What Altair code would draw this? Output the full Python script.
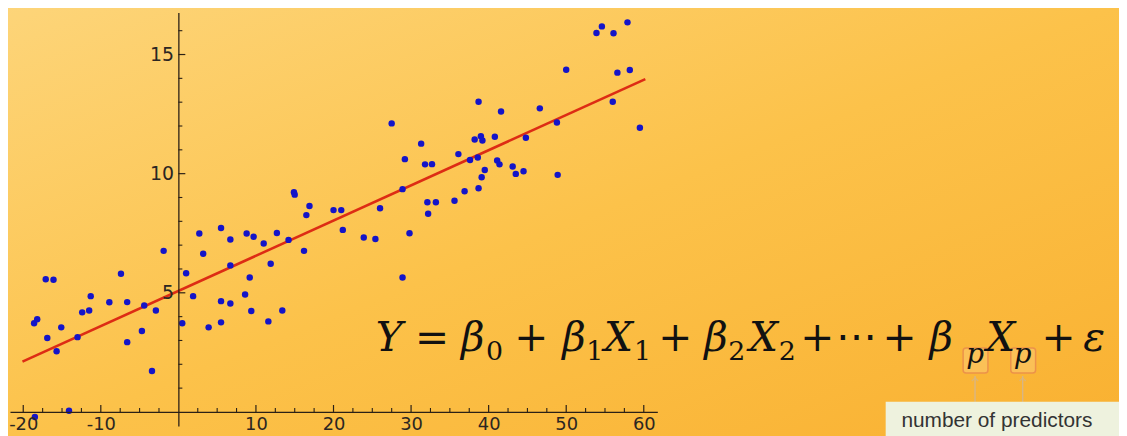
import altair as alt
import pandas as pd
import numpy as np

# ---------------- data ----------------
x_vals = [16.9, 16.5, 20.0, 2.7, 5.5, 6.7, 8.8, 9.7, 11.0, 12.7, 14.2, 16.2, -1.9, 3.2, 1.0,
          6.7, 11.9, 9.2, -17.1, -16.1, -7.4, -11.3, 1.9, 8.6, 5.5, 6.7, -8.9, -6.6, -4.4,
          -12.4, -11.5, -2.9, 9.4, 13.4, -18.6, -18.2, -15.1, 0.5, 3.9, 5.5, 11.6, -16.9,
          -13.0, -4.7, -6.6, -15.7, -3.4, -14.1, -18.5, 14.9, 15.0, 57.9, 54.6, 53.9, 56.1,
          50.0, 56.6, 58.2, 56.0, 38.7, 41.6, 46.6, 27.5, 48.8, 59.5, 31.3, 38.2, 39.0, 39.2,
          40.8, 44.8, 29.2, 31.8, 32.7, 36.1, 37.6, 38.6, 41.1, 41.4, 39.5, 43.1, 43.5, 44.5,
          39.1, 48.9, 36.9, 38.7, 28.9, 32.1, 33.2, 35.6, 26.0, 32.2, 21.0, 21.2, 23.9, 25.4,
          29.8, 28.9]
y_vals = [8.64, 8.26, 8.47, 7.49, 7.72, 7.24, 7.49, 7.35, 7.07, 7.51, 7.22, 6.76, 6.76, 6.64, 5.82,
          6.15, 6.22, 5.64, 5.57, 5.55, 5.80, 4.86, 4.86, 4.93, 4.65, 4.55, 4.60, 4.61, 4.47,
          4.18, 4.26, 4.26, 4.24, 4.26, 3.72, 3.89, 3.55, 3.72, 3.55, 3.76, 3.80, 3.10,
          3.14, 3.40, 2.93, 2.55, 1.72, 0.05, -0.21, 9.22, 9.12, 16.35, 16.18, 15.90, 15.89,
          14.36, 14.24, 14.35, 13.02, 13.02, 12.61, 12.74, 12.11, 12.15, 11.93, 11.26, 11.43, 11.57, 11.39,
          11.55, 11.51, 10.61, 10.39, 10.40, 10.82, 10.57, 10.68, 10.55, 10.39, 10.15, 10.30, 9.99, 10.10,
          9.85, 9.95, 9.26, 9.39, 9.35, 8.80, 8.80, 8.86, 8.55, 8.32, 8.47, 7.64, 7.32, 7.26,
          7.50, 5.64]
line_x = [-20.1, 60.2]
line_y = [2.11, 13.97]

x_tick_labels = [-20, -10, 10, 20, 30, 40, 50, 60]
y_tick_labels = [5, 10, 15]
x_minor_ticks = [v for v in np.arange(-20, 60.1, 2.5) if v % 10 != 0]
y_minor_ticks = [v for v in range(1, 17) if v % 5 != 0]

eq_main_italic = ["Y", "β", "β", "X", "β", "X", "β", "X", "ε"]
eq_main_upright = ["=", "+", "+", "+", "⋯", "+", "+"]
eq_sub_upright = ["0", "1", "1", "2", "2"]
eq_sub_italic = ["p", "p"]
note_text = "number of predictors"

# ---------------- layout (page pixels) ----------------
PX_PER_X, X0_PAGE = 7.8125, 179.6
PX_PER_Y, Y0_PAGE = 24.0, 413.3
LEFT, RIGHT = 10.0, 662.0
TOP, BOTTOM = 11.0, 427.5
W, H = RIGHT - LEFT, BOTTOM - TOP
x_dom = [(LEFT - X0_PAGE) / PX_PER_X, (RIGHT - X0_PAGE) / PX_PER_X]
y_dom = [(Y0_PAGE - BOTTOM) / PX_PER_Y, (Y0_PAGE - TOP) / PX_PER_Y]
x0_plot = X0_PAGE - LEFT
y0_plot = Y0_PAGE - TOP

def px(v):
    return v - LEFT

def py(v):
    return v - TOP

xscale = alt.Scale(domain=x_dom, nice=False, zero=False)
yscale = alt.Scale(domain=y_dom, nice=False, zero=False)
axis_style = dict(title=None, ticks=False, tickSize=0, grid=False, zindex=1,
                  domainColor="#2a2016", domainWidth=1.3, labelFont="DejaVu Sans",
                  labelColor="#2b2622", labelOverlap=False,
                  labelFlush=False, labelBound=False,
                  labelExpr="datum.value < 0 ? '-' + abs(datum.value) : datum.label")
xaxis = alt.Axis(values=x_tick_labels, orient="bottom", offset=y0_plot - H,
                 labelPadding=4, labelFontSize=18, **axis_style)
yaxis = alt.Axis(values=y_tick_labels, orient="left", offset=-x0_plot,
                 labelPadding=5, labelFontSize=19, **axis_style)

def X(field):
    return alt.X(field, type="quantitative", scale=xscale, axis=xaxis)

def Y(field):
    return alt.Y(field, type="quantitative", scale=yscale, axis=yaxis)

dummy = pd.DataFrame({"a": [0]})

# background gradient
bg = alt.Chart(dummy).mark_rect(
    color={"gradient": "linear", "x1": 0, "y1": 0, "x2": 1, "y2": 1,
           "stops": [{"offset": 0, "color": "#FDD57A"},
                     {"offset": 0.5, "color": "#FCC24A"},
                     {"offset": 1, "color": "#F9B030"}]}
).encode(x=alt.value(-LEFT), x2=alt.value(1127), y=alt.value(-TOP), y2=alt.value(440))

# ticks
xt_major = pd.DataFrame({"t": x_tick_labels, "z": 0})
xt_minor = pd.DataFrame({"t": x_minor_ticks, "z": 0})
yt_major = pd.DataFrame({"t": y_tick_labels, "z": 0})
yt_minor = pd.DataFrame({"t": y_minor_ticks, "z": 0})
tick_color = "#2a2016"
xmaj = alt.Chart(xt_major).mark_rule(color=tick_color, strokeWidth=1.2, y2Offset=-7).encode(
    x=X("t"), y=Y("z"), y2="z")
xmin = alt.Chart(xt_minor).mark_rule(color=tick_color, strokeWidth=1.1, y2Offset=-4).encode(
    x=X("t"), y=Y("z"), y2="z")
ymaj = alt.Chart(yt_major).mark_rule(color=tick_color, strokeWidth=1.2, x2Offset=7).encode(
    y=Y("t"), x=X("z"), x2="z")
ymin = alt.Chart(yt_minor).mark_rule(color=tick_color, strokeWidth=1.1, x2Offset=4).encode(
    y=Y("t"), x=X("z"), x2="z")

# data points and fitted line
pts = alt.Chart(pd.DataFrame({"x": x_vals, "y": y_vals})).mark_circle(
    size=42, color="#1414C8", opacity=1).encode(x=X("x"), y=Y("y"))
fit = alt.Chart(pd.DataFrame({"x": line_x, "y": line_y})).mark_line(
    color="#DD2C14", strokeWidth=2.6).encode(x=X("x"), y=Y("y"))

# equation
def eq_layer(texts, centers, base, size, italic, weight="normal"):
    df = pd.DataFrame({"t": texts, "cx": [px(c) for c in centers]})
    return alt.Chart(df).mark_text(
        font="DejaVu Serif", fontSize=size, fontStyle="italic" if italic else "normal",
        fontWeight=weight, align="center", baseline="alphabetic", color="#111111"
    ).encode(x=alt.X("cx:Q", scale=None), y=alt.value(py(base)), text="t:N")

eq1 = eq_layer(eq_main_italic, [392, 476, 578, 623, 721, 769, 948, 1008, 1102], 352, 41, True)
eq2 = eq_layer(eq_main_upright, [435, 535, 680, 823, 863, 906, 1066], 352, 41, False)
eq3 = eq_layer(eq_sub_upright, [498, 599, 647, 742, 793], 361, 27, False)
eq4 = eq_layer(eq_sub_italic, [982, 1030], 364, 28, True)

# small boxes around subscript p (drawn beneath the equation text)
pbox = pd.DataFrame({"x1": [px(970), px(1018)], "x2": [px(995), px(1043)]})
boxes = alt.Chart(pbox).mark_rect(
    fill="#FFD9A0", fillOpacity=0.3, stroke="#EC924A", strokeWidth=1.5, cornerRadius=3
).encode(x=alt.X("x1:Q", scale=None), x2="x2:Q", y=alt.value(py(349)), y2=alt.value(py(374)))

arrows_df = pd.DataFrame({"ax": [px(982), px(1030)]})
arrow_lines = alt.Chart(arrows_df).mark_rule(color="#D6B58A", strokeWidth=1.3).encode(
    x=alt.X("ax:Q", scale=None), y=alt.value(py(377)), y2=alt.value(py(403)))
arrow_heads = alt.Chart(arrows_df).mark_point(
    shape="M-1,1L0,0L1,1", size=40, stroke="#D6B58A", strokeWidth=1.3, filled=False
).encode(x=alt.X("ax:Q", scale=None), y=alt.value(py(379)))

# note box
note_box = alt.Chart(dummy).mark_rect(color="#EEF2DE").encode(
    x=alt.value(px(892)), x2=alt.value(px(1130)), y=alt.value(py(403)), y2=alt.value(py(440)))
note = alt.Chart(pd.DataFrame({"t": [note_text]})).mark_text(
    font="Liberation Sans", fontSize=21, color="#333333", align="center", baseline="middle"
).encode(x=alt.value(px(1004)), y=alt.value(py(422)), text="t:N")

chart = alt.layer(
    bg, xmaj, xmin, ymaj, ymin, fit, pts, boxes, arrow_lines, arrow_heads,
    eq1, eq2, eq3, eq4, note_box, note
).properties(
    width=W, height=H,
    autosize=alt.AutoSizeParams(type="none"),
    padding={"left": LEFT - 8, "top": TOP - 8,
             "right": 1127 - 8 - (LEFT - 8) - W, "bottom": 436 - 8 - (TOP - 8) - H + 4},
).configure_view(stroke=None).configure(background="#FCC656")

chart.save("out.html", embed_options={"renderer": "svg", "actions": False})
